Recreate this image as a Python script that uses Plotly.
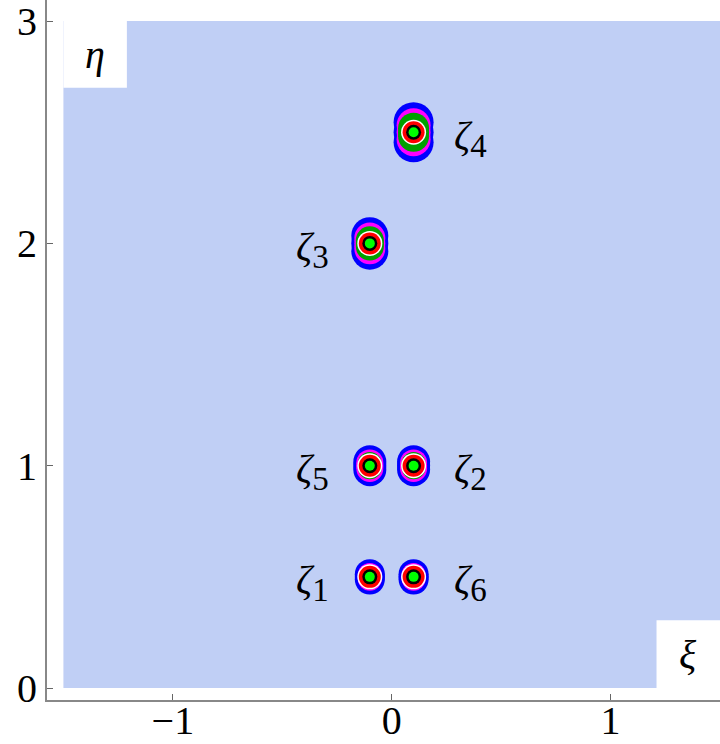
import plotly.graph_objects as go

# ---- data ----
zero_names = ["ζ", "ζ", "ζ", "ζ", "ζ", "ζ"]
zero_index = ["1", "2", "3", "4", "5", "6"]
zero_xi = [-0.1, 0.1, -0.1, 0.1, -0.1, 0.1]
zero_eta = [0.5, 1.0, 2.0, 2.5, 1.0, 0.5]
x_ticks = [-1, 0, 1]
x_tick_text = ["−1", "0", "1"]
y_ticks = [0, 1, 2, 3]
y_tick_text = ["0", "1", "2", "3"]
domain_xi = [-1.5, 1.5]
domain_eta = [0.0, 3.0]
eta_box = [-1.5, -1.21, 2.70, 3.0]
xi_box = [1.21, 1.5, 0.0, 0.305]

BG = "rgb(192,207,245)"
SERIF = "Liberation Serif, Times New Roman, serif"

fig = go.Figure()

shapes = [
    dict(type="rect", xref="x", yref="y", x0=domain_xi[0], x1=domain_xi[1],
         y0=domain_eta[0], y1=domain_eta[1], fillcolor=BG, line=dict(width=0), layer="below"),
    dict(type="rect", xref="x", yref="y", x0=eta_box[0], x1=eta_box[1],
         y0=eta_box[2], y1=eta_box[3], fillcolor="white", line=dict(width=0), layer="below"),
    dict(type="rect", xref="x", yref="y", x0=xi_box[0], x1=xi_box[1],
         y0=xi_box[2], y1=xi_box[3], fillcolor="white", line=dict(width=0), layer="below"),
]

# blob style per point: upper zeros are taller / wider
elong = [0.012, 0.018, 0.035, 0.045, 0.018, 0.012]
big = [30, 33, 37, 40, 33, 30]


def layer(color, sizes, yscale):
    for dy in (-1, 0, 1):
        fig.add_trace(go.Scatter(
            x=zero_xi, y=[e + dy * d * yscale for e, d in zip(zero_eta, elong)], mode="markers",
            marker=dict(color=color, size=sizes, opacity=1, line=dict(width=0)),
            hoverinfo="skip", showlegend=False))


layer("#0000FF", big, 1.0)
layer("#FF00FF", [b - 6 for b in big], 0.7)
layer("#00A000", [b - 9 for b in big], 0.4)

rings = [("white", 25), ("#FF0000", 22), ("#000000", 15), ("#00FF00", 10)]
for col, sz in rings:
    fig.add_trace(go.Scatter(
        x=zero_xi, y=zero_eta, mode="markers",
        marker=dict(color=col, size=sz, opacity=1, line=dict(width=0)),
        hoverinfo="skip", showlegend=False))

annotations = []
for name, idx, xv, yv in zip(zero_names, zero_index, zero_xi, zero_eta):
    annotations.append(dict(
        x=xv, y=yv, xref="x", yref="y",
        text=f"<i>{name}</i><sub><span style='font-size:33px'>{idx}</span></sub>",
        showarrow=False,
        xshift=57 if xv > 0 else -57, yshift=-6,
        font=dict(family=SERIF, size=40, color="black")))

annotations.append(dict(x=(eta_box[0] + eta_box[1]) / 2, y=(eta_box[2] + eta_box[3]) / 2,
                        xref="x", yref="y", text="<i>η</i>", showarrow=False,
                        font=dict(family=SERIF, size=40, color="black")))
annotations.append(dict(x=(xi_box[0] + xi_box[1]) / 2, y=(xi_box[2] + xi_box[3]) / 2,
                        xref="x", yref="y", text="<i>ξ</i>", showarrow=False,
                        font=dict(family=SERIF, size=40, color="black")))

axis_common = dict(showgrid=False, zeroline=False, showline=True, linecolor="#888888",
                   linewidth=2, ticks="inside", ticklen=6, tickwidth=1, tickcolor="#666666",
                   automargin=False, ticklabeloverflow="allow",
                   tickfont=dict(family=SERIF, size=40, color="black"))

fig.update_layout(
    width=720, height=744,
    margin=dict(l=47, r=0, t=0, b=44),
    paper_bgcolor="white", plot_bgcolor="white",
    shapes=shapes, annotations=annotations,
    xaxis=dict(range=[-1.575, 1.5], tickvals=x_ticks, ticktext=x_tick_text,
               ticklabelstandoff=-16, **axis_common),
    yaxis=dict(range=[-0.054, 3.095], tickvals=y_ticks, ticktext=y_tick_text,
               ticklabelstandoff=0, **axis_common),
)

fig.write_html("out.html")
